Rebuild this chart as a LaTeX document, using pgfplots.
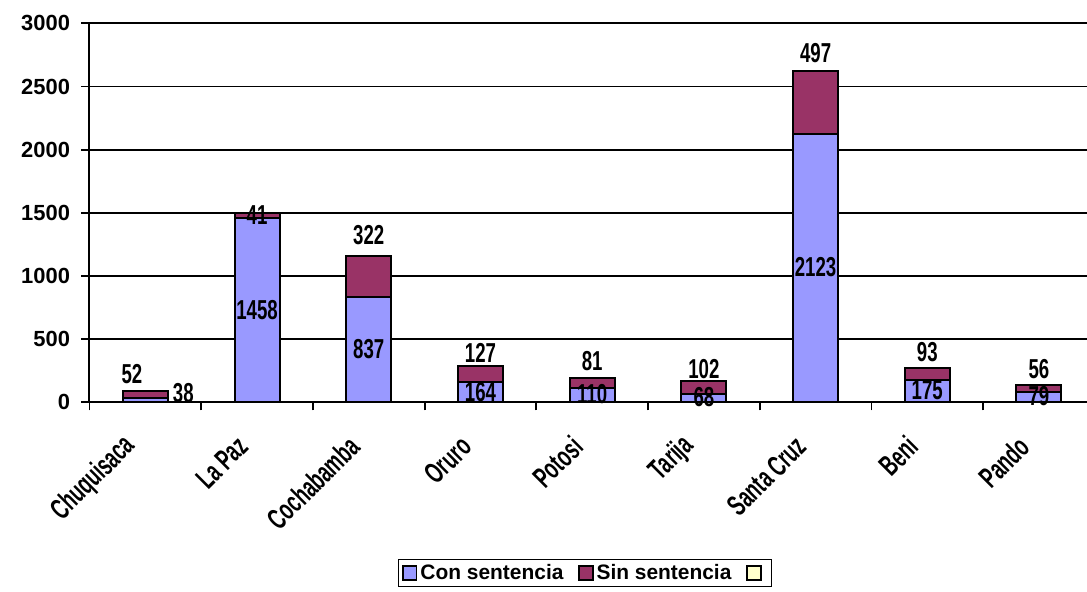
\documentclass[border=0pt]{standalone}
\usepackage{fontspec}
\setmainfont{Liberation Sans}
\newfontfamily\condfont{Liberation Sans}[FakeStretch=0.63]
\newfontfamily\numfont{Liberation Sans}[FakeStretch=0.68]
\usepackage{pgfplots}
\pgfplotsset{compat=1.18}
\usepackage{pgfplotstable}
\definecolor{conc}{HTML}{9999FF}
\definecolor{sinc}{HTML}{993366}
\definecolor{emptyc}{HTML}{FFFFCC}

\pgfplotstableread{
x con sin
0 38 52
1 1458 41
2 837 322
3 164 127
4 110 81
5 68 102
6 2123 497
7 175 93
8 79 56
}\datatable

\pgfplotstableread{
x y lab
0.34 73 38
1 729 1458
2 418 837
3 82 164
4 62 110
5 45 68
6 1068 2123
7 92 175
8 46 79
-0.12 224 52
1 1485 41
2 1324 322
3 394 127
4 327 81
5 264 102
6 2763 497
7 394 93
8 264 56
}\labeltable

\pgfplotsset{
  basestyle/.style={scale only axis, width=997.5bp, height=379bp,
    xmin=-0.5, xmax=8.43, ymin=0, ymax=3000, clip=false},
  mylegend/.style={legend image code/.code={
    \draw[##1, draw=black, line width=1.6bp] (0bp,-6.8bp) rectangle (13.5bp,6.8bp);}},
}

\begin{document}
\begin{tikzpicture}
\begin{axis}[basestyle,
  ybar stacked, bar width=45bp,
  axis lines*=left,
  axis line style={black, line width=2bp},
  ytick={0,500,...,3000},
  ymajorgrids, grid style={black, line width=1.8bp},
  xtick={-0.5,0.5,...,7.5}, xticklabels={},
  tick style={black, line width=1.8bp},
  major tick length=8bp, tick align=outside,
  /pgf/number format/assume math mode=true,
  /pgf/number format/1000 sep={},
  yticklabel style={font=\fontsize{22}{24}\selectfont\bfseries, anchor=east, xshift=-8bp},
  legend columns=-1,
  legend style={at={(0.4967,-0.4504)}, anchor=center, draw=black, line width=1.6bp,
    font=\fontsize{21}{23}\selectfont\bfseries,
    /tikz/every even column/.append style={column sep=12bp},
    nodes={inner xsep=3bp},
    inner xsep=4bp, inner ysep=3bp},
]
\addplot[fill=conc, draw=black, line width=2bp, mylegend] table[x=x, y=con]{\datatable};
\addlegendentry{Con sentencia}
\addplot[fill=sinc, draw=black, line width=2bp, mylegend] table[x=x, y=sin]{\datatable};
\addlegendentry{Sin sentencia}
\addlegendimage{mylegend, fill=emptyc}
\addlegendentry{}
\coordinate (O) at (rel axis cs:0,0);
\end{axis}
\begin{axis}[basestyle,
  axis line style={draw=none},
  ytick=\empty,
  xtick={0,...,8},
  xticklabels={Chuquisaca, La Paz, Cochabamba, Oruro, Potosi, Tarija, Santa Cruz, Beni, Pando},
  tick style={draw=none},
  xticklabel style={font=\condfont\bfseries\fontsize{29.5}{30}\selectfont, xshift=-12bp, yshift=-37bp, rotate=45, anchor=east},
]
\addplot[draw=none, mark=none, nodes near coords, point meta=explicit symbolic,
  nodes near coords align=center,
  every node near coord/.append style={font=\numfont\bfseries\fontsize{27.5}{28}\selectfont, inner sep=0pt}]
  table[x=x, y=y, meta=lab]{\labeltable};
\end{axis}
\pgfresetboundingbox
\path[use as bounding box] (O) ++(-89.5bp,-189.7bp) rectangle ++(1087bp,592bp);
\end{tikzpicture}
\end{document}
